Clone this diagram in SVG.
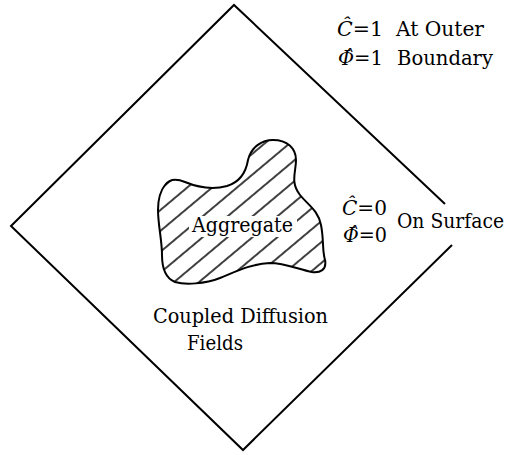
<svg xmlns="http://www.w3.org/2000/svg" width="513" height="455" viewBox="0 0 513 455">
  <defs>
    <style>
      .ln { fill: none; stroke: #000; stroke-width: 2; stroke-linejoin: miter; }
      .t { font-family: "DejaVu Serif", "Liberation Serif", serif; font-size: 20.5px; fill: #000; }
      .s { font-size: 19.5px; }
      .i { font-style: italic; }
    </style>
    <pattern id="hatch" patternUnits="userSpaceOnUse" width="30" height="16" patternTransform="rotate(-40)">
      <line x1="0" y1="8" x2="30" y2="8" stroke="#000" stroke-width="1.5"/>
    </pattern>
    <clipPath id="blobClip">
      <path d="M165,185 C170,178 178,179 185,182 C197,187 212,190 227,186 C240,182 246,172 248,160 C251,147 262,140 273,140 C287,140 296,148 296,160 C296,172 290,182 300,195 C308,205 318,210 321,225 C324,240 322,250 325,260 C327,270 320,273 312,272 C300,270 285,263 270,263 C250,264 235,272 220,278 C205,284 185,285 175,282 C165,278 162,268 162,255 C162,240 158,225 158,210 C158,197 161,190 165,185 Z"/>
    </clipPath>
  </defs>
  <rect width="513" height="455" fill="#fff"/>

  <g id="outer-boundary">
    <polyline class="ln" points="445,204 234,5 11,226 243,450 452,245"/>
  </g>

  <g id="aggregate">
    <rect x="150" y="130" width="185" height="160" fill="url(#hatch)" clip-path="url(#blobClip)"/>
    <rect x="189" y="216" width="108" height="21" fill="#fff"/>
    <path class="ln" d="M165,185 C170,178 178,179 185,182 C197,187 212,190 227,186 C240,182 246,172 248,160 C251,147 262,140 273,140 C287,140 296,148 296,160 C296,172 290,182 300,195 C308,205 318,210 321,225 C324,240 322,250 325,260 C327,270 320,273 312,272 C300,270 285,263 270,263 C250,264 235,272 220,278 C205,284 185,285 175,282 C165,278 162,268 162,255 C162,240 158,225 158,210 C158,197 161,190 165,185 Z"/>
    <text class="t" x="192" y="232" textLength="101" lengthAdjust="spacingAndGlyphs">Aggregate</text>
  </g>

  <g id="outer-condition">
    <text class="t" x="337" y="36" textLength="46" lengthAdjust="spacingAndGlyphs"><tspan class="i">Ĉ</tspan>=1</text>
    <text class="t" x="396" y="36" textLength="88" lengthAdjust="spacingAndGlyphs">At Outer</text>
    <text class="t" x="338" y="65" textLength="45" lengthAdjust="spacingAndGlyphs"><tspan class="i">Φ̂</tspan>=1</text>
    <text class="t" x="397" y="65" textLength="96" lengthAdjust="spacingAndGlyphs">Boundary</text>
  </g>

  <g id="surface-condition">
    <text class="t" x="342" y="215" textLength="45" lengthAdjust="spacingAndGlyphs"><tspan class="i">Ĉ</tspan>=0</text>
    <text class="t" x="343" y="242" textLength="44" lengthAdjust="spacingAndGlyphs"><tspan class="i">Φ̂</tspan>=0</text>
    <text class="t s" x="397" y="228" textLength="107" lengthAdjust="spacingAndGlyphs">On Surface</text>
  </g>

  <g id="field-label">
    <text class="t" x="153" y="323" textLength="175" lengthAdjust="spacingAndGlyphs">Coupled Diffusion</text>
    <text class="t" x="187" y="350" textLength="56" lengthAdjust="spacingAndGlyphs">Fields</text>
  </g>
</svg>
